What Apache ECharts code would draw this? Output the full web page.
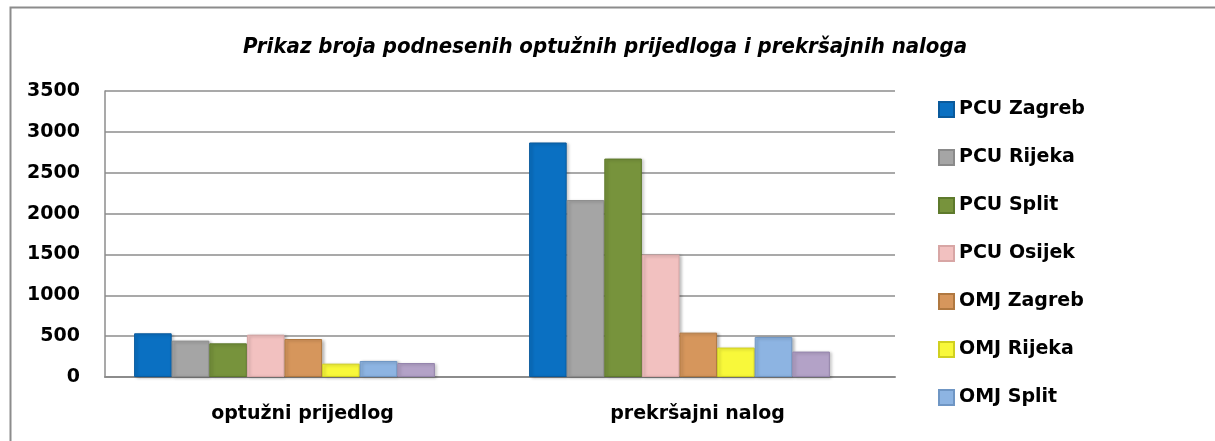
<!DOCTYPE html>
<html>
<head>
<meta charset="utf-8">
<script src="https://cdn.jsdelivr.net/npm/echarts@6/dist/echarts.min.js"></script>
<style>
  html, body { margin: 0; padding: 0; background: #ffffff; }
  #chart { width: 1215px; height: 441px; }
</style>
</head>
<body>
<div id="chart"></div>
<script>
// podaci
var categories = ['optužni prijedlog', 'prekršajni nalog'];
var seriesNames = ['PCU Zagreb', 'PCU Rijeka', 'PCU Split', 'PCU Osijek', 'OMJ Zagreb', 'OMJ Rijeka', 'OMJ Split', 'OMJ Osijek'];
var pcuZagreb = [535, 2870];
var pcuRijeka = [445, 2165];
var pcuSplit = [412, 2673];
var pcuOsijek = [518, 1498];
var omjZagreb = [465, 543];
var omjRijeka = [163, 360];
var omjSplit = [196, 490];
var omjOsijek = [171, 311];
var yTicks = [0, 500, 1000, 1500, 2000, 2500, 3000, 3500];

var values = [pcuZagreb, pcuRijeka, pcuSplit, pcuOsijek, omjZagreb, omjRijeka, omjSplit, omjOsijek];
var colors = ['#0A70C2', '#A5A5A5', '#77933C', '#F2C1C0', '#D6965C', '#F8F83A', '#8DB4E2', '#B3A2C7'];
var borders = ['#0A5A9C', '#8A8A8A', '#5E7A2C', '#D8A6A5', '#B07840', '#D0D020', '#6F96C4', '#9585AC'];

var font = 'DejaVu Sans';

var chart = echarts.init(document.getElementById('chart'));

var series = seriesNames.map(function (name, i) {
  return {
    name: name,
    type: 'bar',
    xAxisIndex: 1,
    yAxisIndex: 1,
    barWidth: 37.6,
    barGap: '0%',
    data: values[i],
    itemStyle: {
      color: colors[i],
      borderColor: borders[i],
      borderWidth: 1,
      shadowColor: 'rgba(0,0,0,0.25)',
      shadowBlur: 3,
      shadowOffsetX: 2,
      shadowOffsetY: 1
    }
  };
});

var option = {
  backgroundColor: '#ffffff',
  animation: false,
  color: colors,
  title: {
    text: 'Prikaz broja podnesenih optužnih prijedloga i prekršajnih naloga',
    left: 600,
    textAlign: 'center',
    top: 31,
    textStyle: {
      fontFamily: 'DejaVu Sans Condensed',
      fontStyle: 'italic',
      fontWeight: 'bold',
      fontSize: 22,
      color: '#000000'
    }
  },
  legend: {
    orient: 'vertical',
    left: 938,
    top: 100,
    padding: 0,
    height: 1000,
    itemWidth: 15,
    itemHeight: 15,
    itemGap: 29,
    icon: 'rect',
    // u izvorniku legenda ne stane do kraja, zadnja stavka se ne vidi
    data: seriesNames.slice(0, 7),
    textStyle: {
      fontFamily: font,
      fontWeight: 'bold',
      fontSize: 19,
      lineHeight: 18,
      color: '#000000'
    }
  },
  grid: [
    { left: 105, right: 320, top: 91, bottom: 64 },
    { left: 87, right: 338, top: 91, bottom: 64 }
  ],
  xAxis: [
    {
      type: 'category',
      gridIndex: 0,
      data: categories,
      axisTick: { show: false },
      axisLine: { lineStyle: { color: '#8C8C8C', width: 2 } },
      axisLabel: {
        margin: 28,
        fontFamily: font,
        fontWeight: 'bold',
        fontSize: 19,
        color: '#000000'
      }
    },
    {
      type: 'category',
      gridIndex: 1,
      data: categories,
      show: false
    }
  ],
  yAxis: [
    {
      type: 'value',
      gridIndex: 0,
      min: yTicks[0],
      max: yTicks[yTicks.length - 1],
      interval: 500,
      axisLine: { show: true, lineStyle: { color: '#8C8C8C', width: 1.5 } },
      axisTick: { show: false },
      splitLine: { lineStyle: { color: '#8C8C8C', width: 1.5 } },
      axisLabel: {
        margin: 25,
        fontFamily: font,
        fontWeight: 'bold',
        fontSize: 19,
        color: '#000000',
        formatter: function (v) { return String(v); }
      }
    },
    {
      type: 'value',
      gridIndex: 1,
      min: yTicks[0],
      max: yTicks[yTicks.length - 1],
      interval: 500,
      show: false,
      splitLine: { show: false }
    }
  ],
  graphic: [
    {
      type: 'rect',
      left: 8,
      top: 5,
      shape: { width: 1230, height: 460 },
      style: { fill: 'none', stroke: '#8C8C8C', lineWidth: 2 },
      silent: true
    }
  ],
  series: series
};

chart.setOption(option);
</script>
</body>
</html>
